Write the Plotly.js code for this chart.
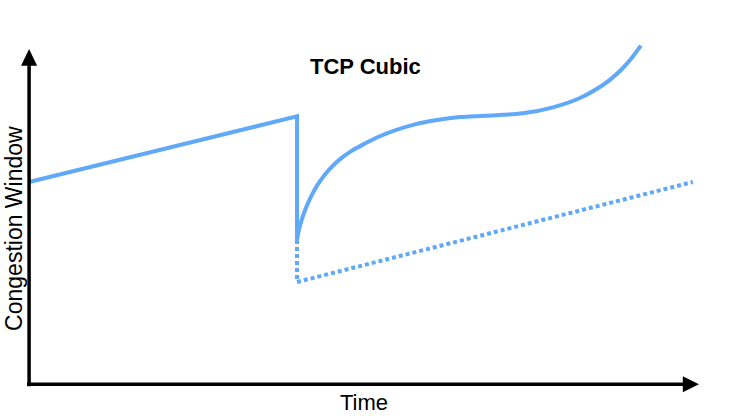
<!DOCTYPE html>
<html>
<head>
<meta charset="utf-8">
<script src="https://cdn.plot.ly/plotly-3.0.1.min.js"></script>
<style>html,body{margin:0;padding:0;background:#fff;}#chart{width:745px;height:418px;}</style>
</head>
<body>
<div id="chart"></div>
<script>
// Data (arbitrary units: time 0-100, window 0-110)
const linearTime = [0, 40, 40];
const linearWindow = [60.5, 80.2, 43.1];

const cubicTime = [40.0, 40.3, 40.75, 41.34, 42.09, 42.99, 44.03, 45.22, 46.57, 48.21, 50.0, 52.09, 54.63, 57.61, 60.9, 64.33, 68.06, 73.73, 78.21, 82.24, 85.67, 87.16, 88.66, 90.0, 91.34];
const cubicWindow = [43.1, 46.3, 49.5, 52.8, 56.1, 59.4, 62.4, 65.1, 67.6, 69.9, 71.9, 74.0, 76.0, 77.8, 79.1, 80.0, 80.4, 81.1, 82.9, 85.7, 89.6, 91.9, 94.7, 97.8, 101.4];

const renoTime = [40, 40, 99.1];
const renoWindow = [43.1, 30.5, 60.5];

const titleText = "TCP Cubic";
const xLabel = "Time";
const yLabel = "Congestion Window";

const blue = "#5fa9f8";
const font = "Liberation Sans, Arial, sans-serif";

const traces = [
  {x: renoTime, y: renoWindow, mode: "lines", line: {color: blue, width: 4, dash: "4px,3px"}, hoverinfo: "skip"},
  {x: linearTime, y: linearWindow, mode: "lines", line: {color: blue, width: 4}, hoverinfo: "skip"},
  {x: cubicTime, y: cubicWindow, mode: "lines", line: {color: blue, width: 4, shape: "spline", smoothing: 1}, hoverinfo: "skip"}
];

// pixel mapping: x 0 -> 29px, 6.7 px/unit ; y 0 -> 384px, 3.336 px/unit
const pxX = 6.7, pxY = 3.336;
const xr = [-3, 103], yr = [-10, 110];
const ml = 29 + xr[0] * pxX;
const mr = 745 - (29 + xr[1] * pxX);
const mb = 418 - (384 - yr[0] * pxY);
const mt = 384 - yr[1] * pxY;

const layout = {
  width: 745, height: 418,
  margin: {l: ml, r: mr, t: mt, b: mb, pad: 0},
  paper_bgcolor: "#fff", plot_bgcolor: "#fff",
  showlegend: false,
  xaxis: {range: xr, visible: false, fixedrange: true},
  yaxis: {range: yr, visible: false, fixedrange: true},
  shapes: [
    {type: "line", xref: "x", yref: "y", x0: -0.3, y0: -0.15, x1: 97.8, y1: -0.15, line: {color: "#000", width: 3.5}},
    {type: "path", xref: "x", yref: "y", path: "M 97.6,2.25 L 100,-0.15 L 97.6,-2.55 Z", fillcolor: "#000", line: {width: 0}},
    {type: "line", xref: "x", yref: "y", x0: 0, y0: -0.8, x1: 0, y1: 95.8, line: {color: "#000", width: 3.5}},
    {type: "path", xref: "x", yref: "y", path: "M -1.2,95.4 L 0,100.4 L 1.2,95.4 Z", fillcolor: "#000", line: {width: 0}}
  ],
  annotations: [
    {text: "<b>" + titleText + "</b>", xref: "x", yref: "y", x: (365 - 29) / pxX, y: (384 - 67) / pxY,
     xanchor: "center", yanchor: "middle", showarrow: false, font: {family: font, size: 22, color: "#000"}},
    {text: xLabel, xref: "x", yref: "y", x: (364 - 29) / pxX, y: (384 - 403) / pxY,
     xanchor: "center", yanchor: "middle", showarrow: false, font: {family: font, size: 22, color: "#000"}},
    {text: yLabel, xref: "x", yref: "y", x: (14 - 29) / pxX, y: (384 - 229) / pxY, textangle: -90,
     xanchor: "center", yanchor: "middle", showarrow: false, font: {family: font, size: 23, color: "#000"}}
  ]
};

Plotly.newPlot("chart", traces, layout, {staticPlot: true, displayModeBar: false});
</script>
</body>
</html>
